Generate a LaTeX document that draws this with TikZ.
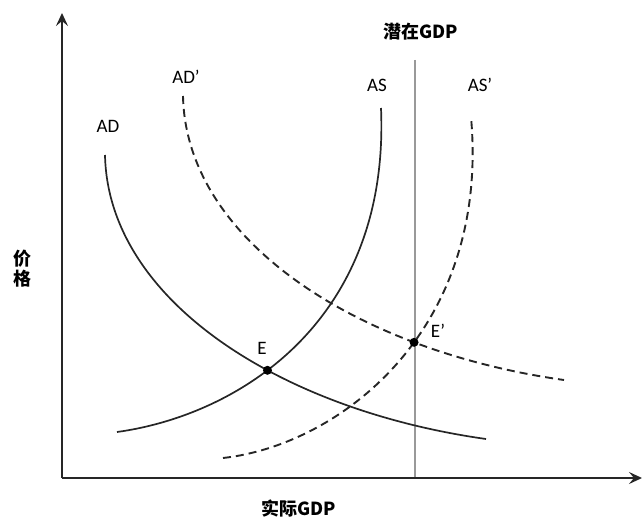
\documentclass[tikz,border=0pt]{standalone}
\usepackage{fontspec}
\setmainfont{Carlito}
\newfontfamily\cjk{Noto Sans CJK SC}
\usetikzlibrary{arrows.meta,intersections}
\begin{document}
\begin{tikzpicture}[x=1pt,y=-1pt,
  curve/.style={line width=1.7pt,black!85},
  dcurve/.style={curve,line width=1.9pt,dash pattern=on 8pt off 5pt},
  axis/.style={line width=2.8pt,black!85,-{Stealth[length=13pt,width=12pt,inset=5pt]}},
  lbl/.style={font=\fontsize{19}{22}\selectfont,inner sep=0pt},
  clbl/.style={font=\cjk\bfseries\fontsize{18}{21}\selectfont,inner sep=0pt},
  dot/.style={circle,fill=black,inner sep=0pt,minimum size=9pt}]
\useasboundingbox (0,0) rectangle (643,519);
\coordinate (O) at (62,478);
\coordinate (ytip) at (62,13);
\coordinate (xtip) at (642,478);
\coordinate (ptop) at (415,60);
\coordinate (pbot) at (415,478);
% potential GDP line
\draw[line width=1.3pt,black!40] (ptop) -- (pbot);
% axes
\draw[axis] (O) -- (ytip);
\draw[axis] (O) -- (xtip);
% AD
\draw[curve,name path=AD] (105,155) .. controls (108,300) and (280,410) .. (486,439);
% AD'
\draw[dcurve,name path=ADp] (183,96) .. controls (186,241) and (358,351) .. (564,380);
% AS
\draw[curve,name path=AS] (117,432) .. controls (240,415) and (390,320) .. (381,108);
% AS'
\draw[dcurve,name path=ASp] (223,458) .. controls (340,445) and (490,330) .. (471,117);
% equilibria
\path[name intersections={of=AD and AS,by=E}];
\path[name intersections={of=ADp and ASp,by=Ep}];
\node[dot] (Edot) at (E) {};
\node[dot] (Epdot) at (Ep) {};
% labels
\node[lbl] (lAD) at (108,126) {AD};
\node[lbl] (lADp) at (186,77) {AD’};
\node[lbl] (lAS) at (377,85) {AS};
\node[lbl] (lASp) at (480,85) {AS’};
\node[lbl] (lE) at (262,348) {E};
\node[lbl] (lEp) at (438,331) {E’};
\node[clbl] (pot) at (421,32) {潜在GDP};
\node[clbl,align=center] (price) at (22,269) {价\\[-1pt]格};
\node[clbl] (real) at (299,509) {实际GDP};
\end{tikzpicture}
\end{document}
